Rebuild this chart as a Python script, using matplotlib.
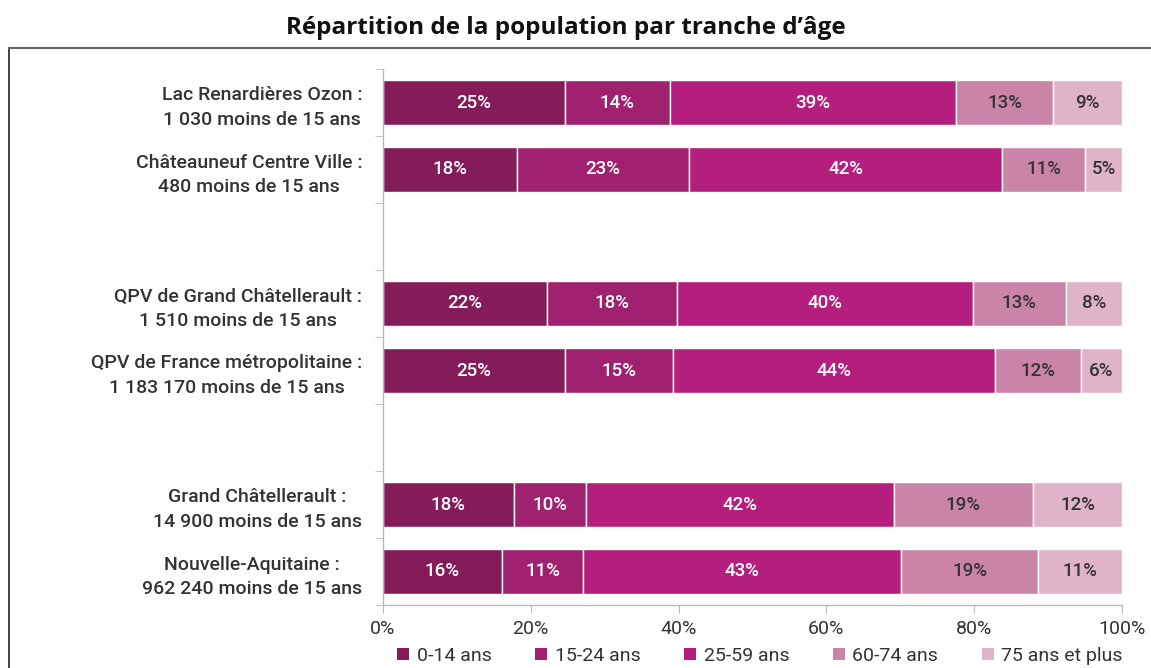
import matplotlib
matplotlib.use("Agg")
import matplotlib.pyplot as plt
from matplotlib.patches import Patch
from matplotlib.lines import Line2D

plt.rcParams['font.family'] = ['Roboto', 'DejaVu Sans']

categories = [
    "Lac Renardières Ozon :\n1 030 moins de 15 ans",
    "Châteauneuf Centre Ville :\n480 moins de 15 ans",
    "",
    "QPV de Grand Châtellerault :\n1 510 moins de 15 ans",
    "QPV de France métropolitaine :\n1 183 170 moins de 15 ans",
    "",
    "Grand Châtellerault :\n14 900 moins de 15 ans",
    "Nouvelle-Aquitaine :\n962 240 moins de 15 ans",
]
series_names = ["0-14 ans", "15-24 ans", "25-59 ans", "60-74 ans", "75 ans et plus"]
age_0_14 = [24.6, 18.1, None, 22.2, 24.6, None, 17.7, 16.1]
age_15_24 = [14.2, 23.3, None, 17.6, 14.6, None, 9.8, 11.0]
age_25_59 = [38.7, 42.4, None, 40.0, 43.6, None, 41.6, 43.0]
age_60_74 = [13.2, 11.2, None, 12.6, 11.6, None, 18.9, 18.6]
age_75_plus = [9.3, 5.0, None, 7.6, 5.6, None, 12.0, 11.3]
x_ticks = [0, 20, 40, 60, 80, 100]
x_tick_labels = ["0%", "20%", "40%", "60%", "80%", "100%"]

colors = ["#841c5a", "#a0216f", "#b41f7d", "#ca84a8", "#e0b4c8"]
text_colors = ["white", "white", "white", "#333333", "#333333"]

fig = plt.figure(figsize=(11.51, 6.68), dpi=100)
ax = fig.add_axes([383/1151, 1-605/668, (1122-383)/1151, (605-69)/668])

all_series = [age_0_14, age_15_24, age_25_59, age_60_74, age_75_plus]
n = len(categories)
lefts = [0.0] * n
for s_i, series in enumerate(all_series):
    for i, v in enumerate(series):
        if v is None:
            continue
        ax.barh(i, v, left=lefts[i], height=0.66, color=colors[s_i],
                edgecolor="white", linewidth=1.0)
        ax.text(lefts[i] + v / 2, i, f"{v:.0f}%", ha="center", va="center",
                color=text_colors[s_i], fontsize=13.5, fontweight="medium")
        lefts[i] += v

ax.set_xlim(0, 100)
ax.set_ylim(n - 0.5, -0.5)
ax.set_xticks(x_ticks)
ax.set_xticklabels(x_tick_labels, fontsize=14, color="#333333")
ax.set_yticks(range(n))
ax.set_yticklabels(categories, fontsize=14, color="#333333",
                   fontweight="medium", multialignment="center", linespacing=1.45)
ax.set_yticks([i - 0.5 for i in range(n + 1)], minor=True)
ax.tick_params(axis="y", which="major", length=0, pad=15)
ax.tick_params(axis="y", which="minor", length=6, color="#bbbbbb", direction="out")
ax.tick_params(axis="x", length=6, color="#bbbbbb", direction="out", pad=5)
for sp in ["top", "right"]:
    ax.spines[sp].set_visible(False)
for sp in ["left", "bottom"]:
    ax.spines[sp].set_color("#bbbbbb")
    ax.spines[sp].set_linewidth(1)

handles = [Patch(facecolor=c, edgecolor="none") for c in colors]
fig.legend(handles, series_names, loc="center", bbox_to_anchor=(760/1151, 1-656/668),
           ncol=5, frameon=False, fontsize=14, handlelength=0.6, handleheight=0.6,
           handletextpad=0.4, columnspacing=2.25, labelcolor="#333333",
           borderpad=0, borderaxespad=0)

fig.text(566/1151, 1-28/668, "Répartition de la population par tranche d\u2019âge",
         ha="center", va="center", fontsize=17.5, fontweight="bold",
         family=["Open Sans", "DejaVu Sans"], color="#111111")

fig.add_artist(Line2D([9/1151, 9/1151], [0, 1-48/668], transform=fig.transFigure,
                      color="#222222", linewidth=1.2))
fig.add_artist(Line2D([9/1151, 1], [1-48/668, 1-48/668], transform=fig.transFigure,
                      color="#666666", linewidth=1.5))

fig.savefig("out.png", dpi=100)
